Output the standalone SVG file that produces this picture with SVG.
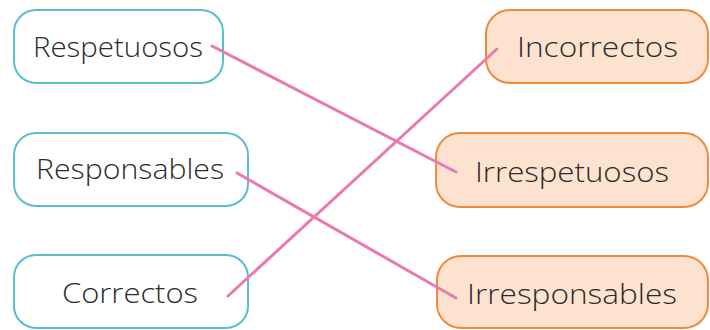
<svg xmlns="http://www.w3.org/2000/svg" width="710" height="330" viewBox="0 0 710 330">
<style>
.l{fill:#ffffff;stroke:#5bbccc;stroke-width:2}
.r{fill:#fde3cf;stroke:#ee8b3e;stroke-width:2}
text{font-family:"Open Sans","Liberation Sans",Arial,sans-serif;font-weight:300;font-size:27px;fill:#2b2b2b}
.c line{stroke:#e97ab1;stroke-width:3;stroke-linecap:round}
</style>
<rect width="710" height="330" fill="#ffffff"/>
<g id="respetuosos"><rect class="l" x="14" y="10" width="209" height="73" rx="22"/><text x="33" y="57" textLength="170" lengthAdjust="spacingAndGlyphs">Respetuosos</text></g>
<g id="responsables"><rect class="l" x="14" y="133" width="234" height="73" rx="22"/><text x="36" y="179" textLength="188" lengthAdjust="spacingAndGlyphs">Responsables</text></g>
<g id="correctos"><rect class="l" x="14" y="255" width="234" height="73" rx="22"/><text x="62" y="303" textLength="136" lengthAdjust="spacingAndGlyphs">Correctos</text></g>
<g id="incorrectos"><rect class="r" x="486" y="10" width="222" height="73" rx="24"/><text x="517" y="57" textLength="161" lengthAdjust="spacingAndGlyphs">Incorrectos</text></g>
<g id="irrespetuosos"><rect class="r" x="436" y="133" width="272" height="74" rx="24"/><text x="475" y="182" textLength="194" lengthAdjust="spacingAndGlyphs">Irrespetuosos</text></g>
<g id="irresponsables"><rect class="r" x="437" y="256" width="271" height="72" rx="24"/><text x="467" y="304" textLength="210" lengthAdjust="spacingAndGlyphs">Irresponsables</text></g>
<g class="c" id="connectors">
<line x1="212" y1="46" x2="456" y2="172"/>
<line x1="237" y1="173" x2="456" y2="298"/>
<line x1="228" y1="296" x2="497" y2="49"/>
</g>
</svg>
